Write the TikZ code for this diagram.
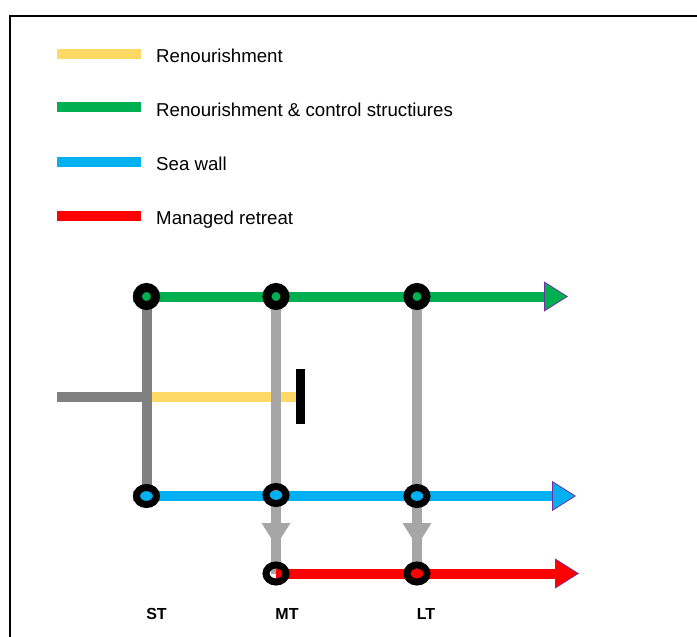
\documentclass[tikz,border=0pt]{standalone}
\usepackage{fontspec}
\setmainfont{Liberation Sans}
\usetikzlibrary{arrows.meta, shapes.geometric, backgrounds}
\definecolor{sandyellow}{RGB}{255, 217, 102}
\definecolor{groyngreen}{RGB}{0, 176, 80}
\definecolor{wallblue}{RGB}{0, 176, 240}
\definecolor{retreatred}{RGB}{255, 0, 0}
\definecolor{pathgray}{RGB}{128, 128, 128}
\definecolor{optgray}{RGB}{166, 166, 166}
\definecolor{tipviolet}{RGB}{112, 48, 160}
\tikzstyle{keyBox} = [shape=rectangle, minimum width=84pt, minimum height=10pt, 
	inner sep=0pt]
\tikzstyle{keyText} = [anchor=base west, inner sep=0pt, 
	font=\fontsize{18.67}{22}\selectfont]
\tikzstyle{timeText} = [anchor=base, inner sep=0pt, 
	font=\fontsize{16}{19}\selectfont\bfseries]
\tikzstyle{roundRing} = [shape=circle, draw=black, line width=9pt, 
	minimum size=18pt, inner sep=0pt]
\tikzstyle{flatRing} = [shape=ellipse, draw=black, line width=7pt, 
	minimum width=20pt, minimum height=17pt, inner sep=0pt]
\tikzstyle{stopBar} = [shape=rectangle, fill=black, minimum width=9pt, 
	minimum height=55pt, inner sep=0pt]
\tikzstyle{pathLine} = [line width=10pt]
\tikzstyle{downArrow} = [pathLine, draw=optgray, 
	-{Triangle[width=29pt, length=23pt, line width=0pt]}]
\tikzset{endArrow/.style={pathLine, draw=#1, 
	-{Triangle[width=30pt, length=24pt, line width=0.8pt, color=tipviolet, fill=#1]}}}

\begin{document}
\begin{tikzpicture}[x=1pt, y=-1pt]
  \useasboundingbox (0,0) rectangle (697,637);
  \draw [line width=2pt] (10,637) -- (10,16) -- (697,16);

  \node (KEYR) [keyBox, fill=sandyellow] at (99,53.5) {};
  \node (KEYG) [keyBox, fill=groyngreen] at (99,107) {};
  \node (KEYB) [keyBox, fill=wallblue] at (99,162) {};
  \node (KEYM) [keyBox, fill=retreatred] at (99,216) {};
  \node (TXTR) [keyText] at (156,62) {Renourishment};
  \node (TXTG) [keyText] at (156,116) {Renourishment \& control structiures};
  \node (TXTB) [keyText] at (156,170) {Sea wall};
  \node (TXTM) [keyText] at (156,224) {Managed retreat};

  \node (STG) [roundRing] at (146.5,296.5) {};
  \node (MTG) [roundRing] at (276,296.5) {};
  \node (LTG) [roundRing] at (417,296.5) {};
  \node (STB) [flatRing] at (146.5,496) {};
  \node (MTB) [flatRing] at (276,495) {};
  \node (LTB) [flatRing] at (417,496) {};
  \node (MTR) [flatRing] at (276,573.5) {};
  \node (LTR) [flatRing] at (417,573.5) {};
  \node (STOP) [stopBar] at (300.5,396.5) {};
  \coordinate (SRC) at (57,396.5);
  \coordinate (STY) at (146.5,396.5);
  \coordinate (MTA) at (276,546);
  \coordinate (LTA) at (417,546);
  \coordinate (GEND) at (568,296.5);
  \coordinate (BEND) at (576,496);
  \coordinate (REND) at (579,573.5);

  \node (LBST) [timeText] at (156.5,619) {ST};
  \node (LBMT) [timeText] at (287,619) {MT};
  \node (LBLT) [timeText] at (426,619) {LT};

  \begin{pgfonlayer}{background}
  \draw [pathLine, pathgray] (SRC) -- (STY);
  \draw [pathLine, sandyellow] (STY) -- (STOP.west);
  \draw [pathLine, pathgray] (STG.center) -- (STB.center);
  \draw [pathLine, optgray] (MTG.center) -- (MTR.center);
  \draw [pathLine, optgray] (LTG.center) -- (LTR.center);
  \draw [downArrow] (MTB.center) -- (MTA);
  \draw [downArrow] (LTB.center) -- (LTA);
  \draw [endArrow=groyngreen] (STG.west) -- (GEND);
  \draw [endArrow=wallblue] (STB.west) -- (BEND);
  \draw [endArrow=retreatred] (MTR.center) -- (REND);
  \end{pgfonlayer}
\end{tikzpicture}
\end{document}
